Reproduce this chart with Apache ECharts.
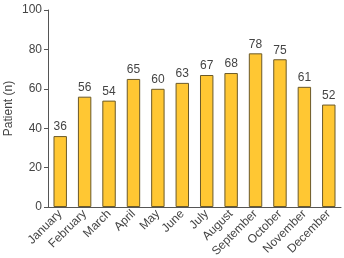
<!DOCTYPE html>
<html>
<head>
    <meta charset="utf-8">
    <script src="https://cdn.jsdelivr.net/npm/echarts@6/dist/echarts.min.js"></script>
    <style>
        body { margin: 0; background: #fff; }
    </style>
</head>
<body>
    <div id="main" style="width: 344px;height:258px;"></div>
    <script type="text/javascript">
        var months = ['January', 'February', 'March', 'April', 'May', 'June', 'July',
            'August', 'September', 'October', 'November', 'December'];
        var patients = [36, 56, 54, 65, 60, 63, 67, 68, 78, 75, 61, 52];
        var yTicks = [0, 20, 40, 60, 80, 100];

        var myChart = echarts.init(document.getElementById('main'));
        var font = 'Liberation Sans, Arial, sans-serif';

        var option = {
            animation: false,
            grid: { left: 48, right: 3, top: 10, bottom: 51, outerBoundsMode: 'none' },
            xAxis: {
                type: 'category',
                data: months,
                axisLine: { lineStyle: { color: '#555', width: 1 } },
                axisTick: { alignWithLabel: false, length: 5, lineStyle: { color: '#555' } },
                axisLabel: {
                    rotate: 45,
                    interval: 0,
                    margin: 5,
                    fontSize: 12,
                    color: '#444',
                    fontFamily: font
                }
            },
            yAxis: {
                type: 'value',
                min: yTicks[0],
                max: yTicks[yTicks.length - 1],
                interval: 20,
                name: 'Patient (n)',
                nameLocation: 'middle',
                nameGap: 33,
                nameMoveOverlap: false,
                nameTextStyle: { fontSize: 12, color: '#444', fontFamily: font },
                axisLine: { show: true, lineStyle: { color: '#555', width: 1 } },
                axisTick: { show: true, length: 4, lineStyle: { color: '#555' } },
                splitLine: { show: false },
                axisLabel: {
                    fontSize: 12,
                    color: '#444',
                    margin: 6,
                    fontFamily: font
                }
            },
            series: [{
                type: 'bar',
                data: patients,
                barWidth: '55%',
                itemStyle: { color: '#FFC733', borderColor: '#6b5a2a', borderWidth: 1 },
                label: {
                    show: true,
                    position: 'top',
                    distance: 3,
                    fontSize: 12,
                    color: '#444',
                    fontFamily: font
                }
            }]
        };
        myChart.setOption(option);
    </script>
</body>
</html>
